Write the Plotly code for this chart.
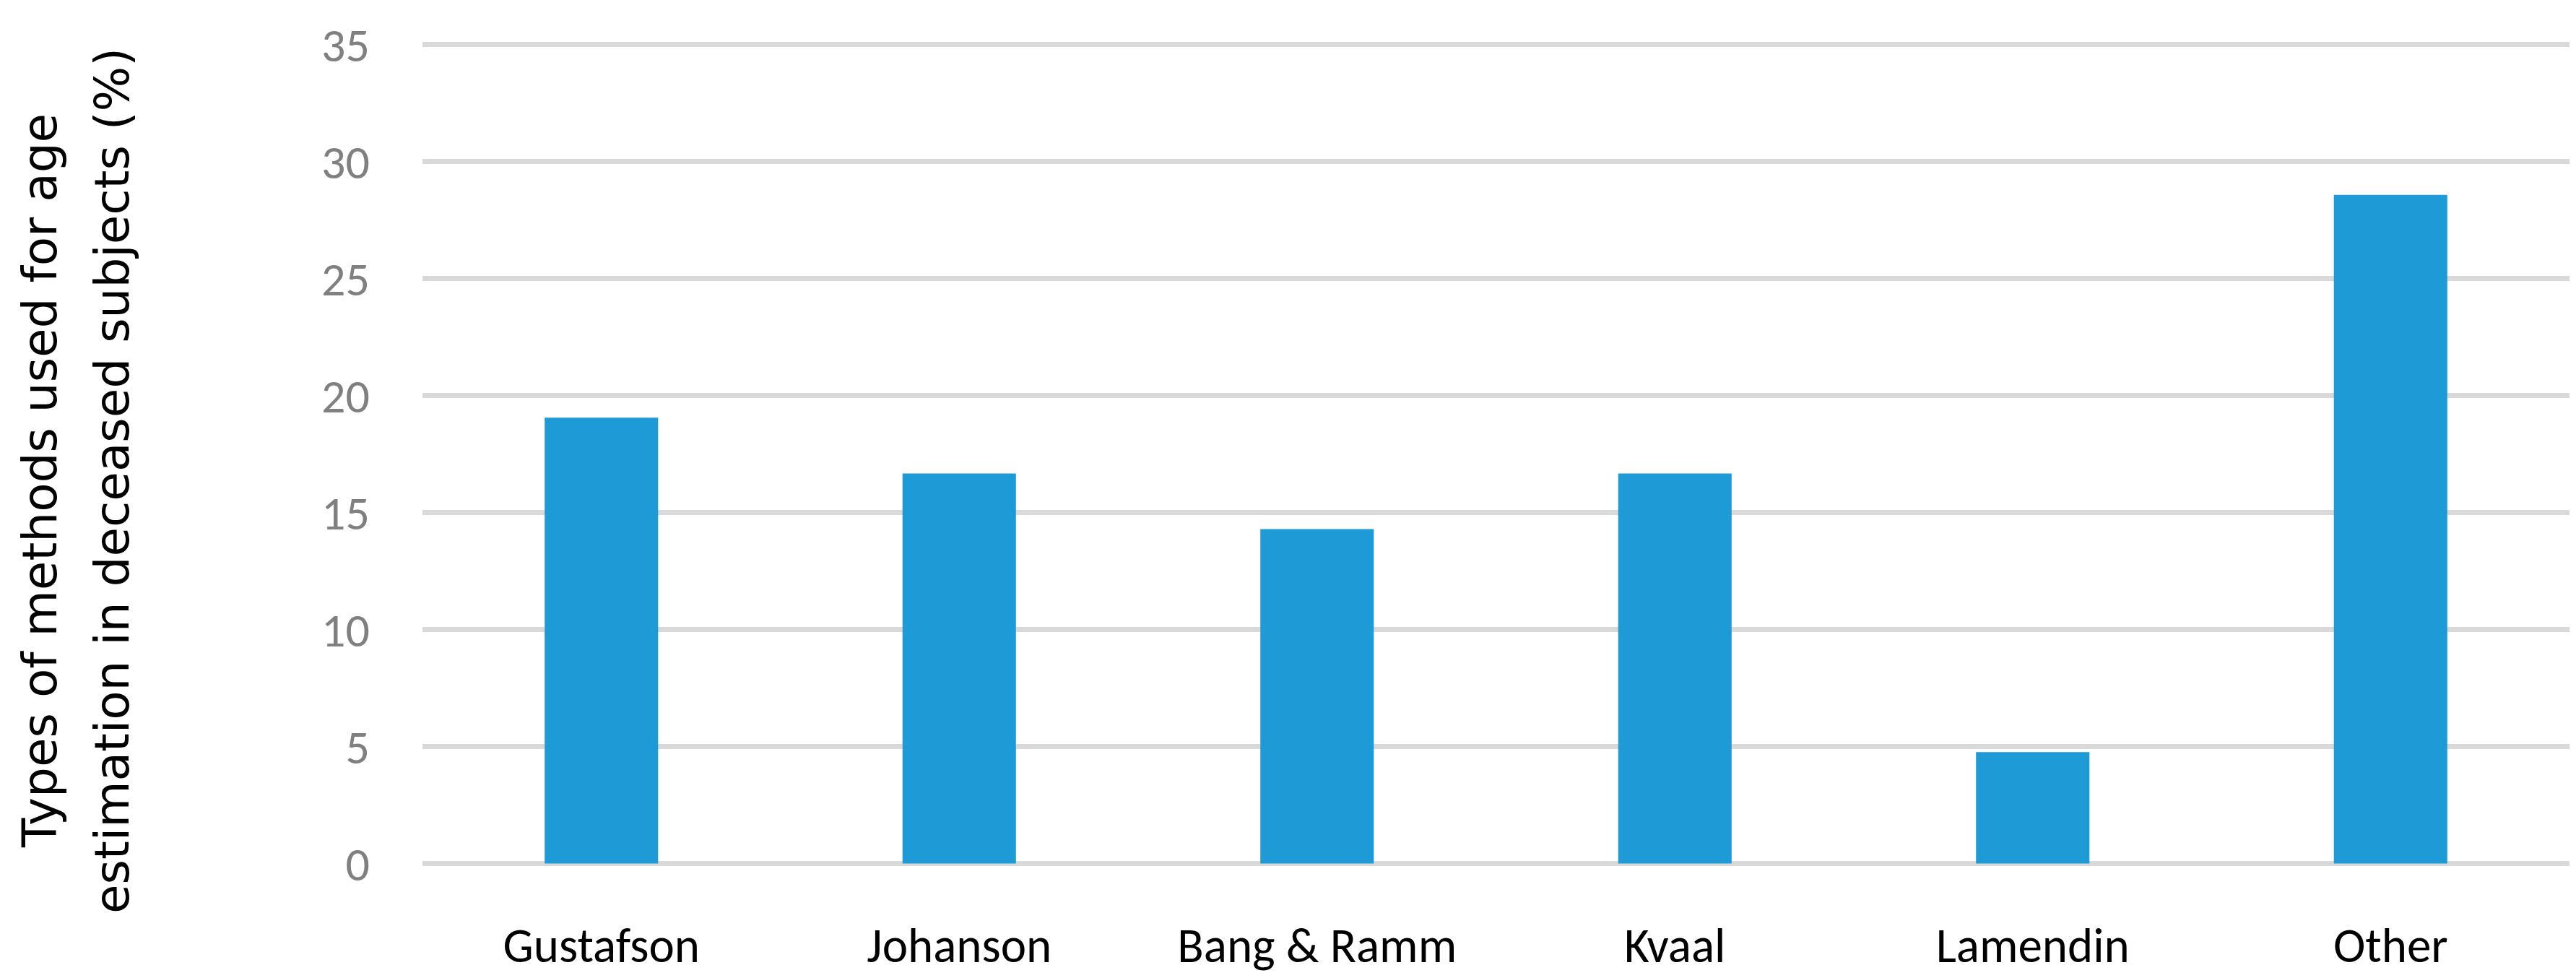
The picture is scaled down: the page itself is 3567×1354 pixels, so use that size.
import plotly.graph_objects as go

categories = ["Gustafson", "Johanson", "Bang &amp; Ramm", "Kvaal", "Lamendin", "Other"]
values = [19.05, 16.67, 14.29, 16.67, 4.76, 28.57]
y_ticks = [0, 5, 10, 15, 20, 25, 30, 35]
title_lines = ["Types of methods used for age", "estimation in deceased subjects (%)"]

W, H = 3567, 1354
ml, mr, mt, mb = 577, 17, 47, 135

fig = go.Figure(go.Bar(
    x=categories, y=values, width=0.317,
    marker=dict(color="#1E9BD7", line=dict(width=0)),
))

fig.update_layout(
    width=W, height=H,
    margin=dict(l=ml, r=mr, t=mt, b=mb),
    paper_bgcolor="white", plot_bgcolor="white",
    showlegend=False,
    font=dict(family="Carlito, Calibri, Lato, sans-serif"),
)
fig.update_xaxes(
    showgrid=False, showline=False, zeroline=False,
    tickfont=dict(size=67, color="#000000"),
    ticks="", ticklabelstandoff=62,
)
fig.update_yaxes(
    range=[-0.2, 35.2], tickvals=y_ticks,
    showgrid=True, gridcolor="#D9D9D9", gridwidth=6.5,
    zeroline=False, showline=False,
    tickfont=dict(size=66, color="#808080"),
    ticks="", ticklabelstandoff=72,
)
for line, xs in zip(title_lines, [-530, -430]):
    fig.add_annotation(
        text=line,
        xref="paper", yref="paper", x=0, y=0, xshift=xs, yshift=536,
        xanchor="center", yanchor="middle", textangle=-90, showarrow=False,
        font=dict(family="DejaVu Sans, Verdana, sans-serif", size=66, color="#000000"),
    )

fig.write_html("out.html")
